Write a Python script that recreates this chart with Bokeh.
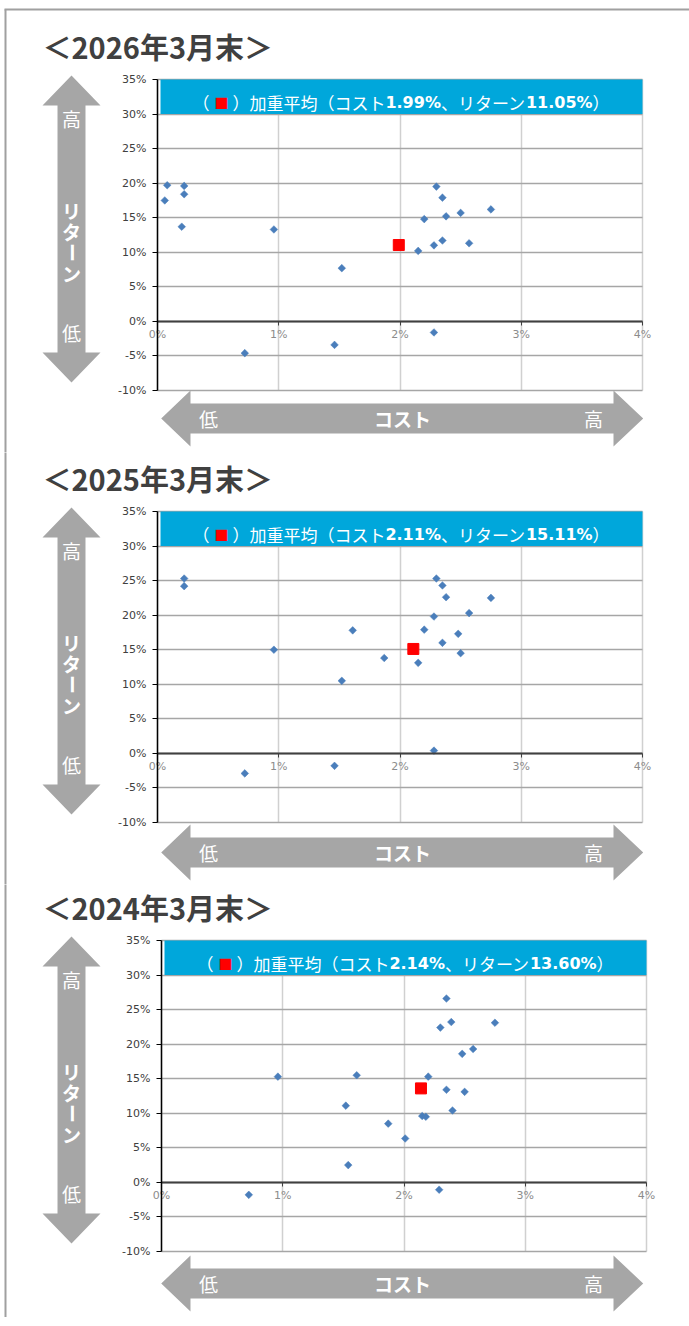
import numpy as np
from bokeh.plotting import figure
from bokeh.layouts import column
from bokeh.models import Range1d, FixedTicker, PrintfTickFormatter, Grid
from bokeh.core.properties import value
from bokeh.embed import file_html
from bokeh.resources import INLINE

# ---------------- data ----------------
titles = ["＜2026年3月末＞", "＜2025年3月末＞", "＜2024年3月末＞"]

cost_2026 = [0.06, 0.08, 0.22, 0.22, 0.20, 0.96, 1.52, 0.72, 1.46, 2.28,
             2.30, 2.35, 2.20, 2.38, 2.50, 2.75, 2.35, 2.28, 2.15, 2.57]
return_2026 = [17.5, 19.7, 19.6, 18.4, 13.7, 13.3, 7.7, -4.6, -3.4, -1.6,
               19.5, 17.9, 14.8, 15.2, 15.7, 16.2, 11.7, 11.0, 10.2, 11.3]

cost_2025 = [0.22, 0.22, 0.96, 1.61, 1.52, 1.87, 0.72, 1.46, 2.28, 2.30,
             2.35, 2.38, 2.75, 2.57, 2.28, 2.20, 2.48, 2.35, 2.50, 2.15]
return_2025 = [25.3, 24.2, 15.0, 17.8, 10.5, 13.8, -2.9, -1.8, 0.4, 25.3,
               24.3, 22.6, 22.5, 20.3, 19.8, 17.9, 17.3, 16.0, 14.5, 13.1]

cost_2024 = [0.96, 1.61, 1.52, 1.54, 1.87, 2.01, 0.72, 2.29, 2.35, 2.39,
             2.30, 2.75, 2.57, 2.48, 2.20, 2.35, 2.50, 2.40, 2.15, 2.18]
return_2024 = [15.3, 15.5, 11.1, 2.5, 8.5, 6.35, -1.8, -1.06, 26.6, 23.2,
               22.4, 23.1, 19.3, 18.6, 15.3, 13.4, 13.1, 10.4, 9.6, 9.5]

avg_cost = [1.99, 2.11, 2.14]
avg_return = [11.05, 15.11, 13.60]

x_ticks = [0, 1, 2, 3, 4]
y_ticks = [-10, -5, 0, 5, 10, 15, 20, 25, 30, 35]

# ---------------- style / layout ----------------
JP = "Noto Sans CJK JP"
NUM = "DejaVu Sans"
ARROW = "#a6a6a6"
BORDER = "#a0a0a0"
BANNER = "#00a7db"
PAGE_W = 689
PLOT_W, PLOT_H = 485, 311          # pixel size of the 0..4 % x -10..35 % area
HAS_CROSS = "cross_bounds" in Grid.properties()

panel_h = [452, 432, 433]          # figure heights
panel_top = [79, 59, 56]           # pixel row of 35 % inside each figure
panel_left = [157, 157, 161]       # pixel column of 0 % inside each figure
panel_harrow = [339, 341, 343]     # horizontal arrow centre below 35 %


def make_panel(i, costs, returns, ac, ar):
    H, T, L = panel_h[i], panel_top[i], panel_left[i]
    kx = (x_ticks[-1] - x_ticks[0]) / PLOT_W
    ky = (y_ticks[-1] - y_ticks[0]) / PLOT_H

    def X(px):
        return x_ticks[0] + (px - L) * kx

    def Y(py):
        return y_ticks[-1] - (py - T) * ky

    p = figure(width=PAGE_W, height=H, min_border=0,
               x_range=Range1d(X(0), X(PAGE_W)), y_range=Range1d(Y(H), Y(0)),
               toolbar_location=None, output_backend="svg",
               outline_line_color=None, background_fill_color="white",
               border_fill_color="white")

    # ---- grids limited to the plotting area
    p.ygrid.ticker = FixedTicker(ticks=y_ticks)
    p.xgrid.ticker = FixedTicker(ticks=x_ticks)
    if HAS_CROSS:
        p.ygrid.cross_bounds = (x_ticks[0], x_ticks[-1])
        p.xgrid.cross_bounds = (y_ticks[0], y_ticks[-1])
        p.ygrid.grid_line_color = "#a6a6a6"
        p.ygrid.grid_line_width = 1.5
        p.xgrid.grid_line_color = "#d0d0d0"
        p.xgrid.grid_line_width = 1.5
    else:
        p.xgrid.visible = False
        p.ygrid.visible = False
        p.segment(x0=x_ticks, y0=[y_ticks[0]] * len(x_ticks), x1=x_ticks,
                  y1=[y_ticks[-1]] * len(x_ticks), line_color="#d0d0d0",
                  line_width=1.5, level="underlay")
        p.segment(x0=[x_ticks[0]] * len(y_ticks), y0=y_ticks, x1=[x_ticks[-1]] * len(y_ticks),
                  y1=y_ticks, line_color="#a6a6a6", line_width=1.5, level="underlay")

    # ---- y axis at 0 %
    ya = p.yaxis[0]
    ya.fixed_location = 0
    ya.bounds = (y_ticks[0], y_ticks[-1])
    ya.ticker = FixedTicker(ticks=y_ticks)
    ya.formatter = PrintfTickFormatter(format="%d%%")
    ya.axis_line_color = "black"
    ya.axis_line_width = 1.5
    ya.major_tick_line_color = "black"
    ya.major_tick_out = 5
    ya.major_tick_in = 0
    ya.minor_tick_line_color = None
    ya.major_label_text_font = "DejaVu Sans"
    ya.major_label_text_font_size = "11px"
    ya.major_label_text_color = "#404040"
    ya.major_label_standoff = 6

    # ---- x axis crossing at 0 %
    xa = p.xaxis[0]
    xa.fixed_location = 0
    xa.bounds = (x_ticks[0], x_ticks[-1])
    xa.ticker = FixedTicker(ticks=x_ticks)
    xa.formatter = PrintfTickFormatter(format="%d%%")
    xa.axis_line_color = "#404040"
    xa.axis_line_width = 2
    xa.major_tick_line_color = "#404040"
    xa.major_tick_out = 4
    xa.major_tick_in = 0
    xa.minor_tick_line_color = None
    xa.major_label_text_font = "DejaVu Sans"
    xa.major_label_text_font_size = "11px"
    xa.major_label_text_color = "#8c8c8c"
    xa.major_label_standoff = 3

    # ---- outer frame of the page
    p.patch([X(4), X(6), X(6), X(4)], [Y(9 if i == 0 else -1)] * 2 + [Y(H + 1)] * 2,
            fill_color=BORDER, line_color=None)
    if i == 0:
        p.patch([X(4), X(PAGE_W), X(PAGE_W), X(4)], [Y(8), Y(8), Y(10), Y(10)],
                fill_color=BORDER, line_color=None)

    # ---- panel title
    p.text(x=[X(42)], y=[Y(T - 34)], text=[titles[i]], text_font=value(JP),
           text_font_size="29px", text_font_style="bold", text_color="#404040",
           text_align="left", text_baseline="middle")

    # ---- vertical double arrow (return)
    cx, t0, t1, b1, b0, hw, sw = 71, T - 4, T + 26, T + 273, T + 303, 29, 14
    xs = [cx, cx + hw, cx + sw, cx + sw, cx + hw, cx, cx - hw, cx - sw, cx - sw, cx - hw]
    ys = [t0, t1, t1, b1, b1, b0, b1, b1, t1, t1]
    p.patch([X(v) for v in xs], [Y(v) for v in ys], fill_color=ARROW, line_color=None)
    common = dict(text_font=value(JP), text_font_size="19px", text_color="white",
                  text_align="center", text_baseline="middle")
    p.text(x=[X(cx)], y=[Y(T + 39)], text=["高"], **common)
    p.text(x=[X(cx)], y=[Y(T + 253)], text=["低"], **common)
    p.text(x=[X(cx)] * 3, y=[Y(T + 131), Y(T + 152), Y(T + 194)], text=["リ", "タ", "ン"],
           text_font_style="bold", **common)
    p.text(x=[X(cx)], y=[Y(T + 173)], text=["ー"], angle=np.pi / 2,
           text_font_style="bold", **common)

    # ---- horizontal double arrow (cost)
    cy = T + panel_harrow[i]
    l0, l1, r1, r0, hh, sh = 160.7, 190, 613, 642.7, 28, 15
    xs = [l0, l1, l1, r1, r1, r0, r1, r1, l1, l1]
    ys = [cy, cy - hh, cy - sh, cy - sh, cy - hh, cy, cy + hh, cy + sh, cy + sh, cy + hh]
    p.patch([X(v) for v in xs], [Y(v) for v in ys], fill_color=ARROW, line_color=None)
    p.text(x=[X(208)], y=[Y(cy)], text=["低"], **common)
    p.text(x=[X(593)], y=[Y(cy)], text=["高"], **common)
    p.text(x=[X(402)], y=[Y(cy)], text=["コスト"], text_font_style="bold", **common)

    # ---- banner with the weighted average
    p.quad(left=[X(L + 3)], right=[x_ticks[-1]], bottom=[30], top=[35],
           fill_color=BANNER, line_color=None)
    cost_s = f"{ac:.2f}%"
    ret_s = f"{ar:.2f}%"

    def num_w(s, size):
        return sum({".": 0.38, "%": 1.002}.get(ch, 0.696) * size for ch in s)

    pieces = [
        ("（", JP, "normal", "white", 17, 22),
        ("■", JP, "normal", "#ff0000", 14, 18),
        ("）", JP, "normal", "white", 17, 17),
        ("加重平均", JP, "normal", "white", 17, 68),
        ("（", JP, "normal", "white", 17, 17),
        ("コスト", JP, "normal", "white", 17, 51),
        (cost_s, NUM, "bold", "white", 16, num_w(cost_s, 16)),
        ("、", JP, "normal", "white", 17, 17),
        ("リターン", JP, "normal", "white", 17, 68),
        (ret_s, NUM, "bold", "white", 16, num_w(ret_s, 16)),
        ("）", JP, "normal", "white", 17, 17),
    ]
    total = sum(pc[5] for pc in pieces)
    xpx = L + 243.5 - total / 2
    for txt, font, style, col, size, w in pieces:
        p.text(x=[X(xpx)], y=[31.7], text=[txt], text_font=value(font),
               text_font_style=style, text_color=col, text_font_size=f"{size}px",
               text_align="left", text_baseline="middle")
        xpx += w

    # ---- data points
    p.scatter(costs, returns, marker="square", angle=np.pi / 4, size=5.4,
              fill_color="#4a7ebb", line_color="#4a7ebb", line_width=0.5)
    p.scatter([ac], [ar], marker="square", size=11, fill_color="#ff0000", line_color="#ff0000")
    return p


series = [(cost_2026, return_2026), (cost_2025, return_2025), (cost_2024, return_2024)]
figs = [make_panel(i, series[i][0], series[i][1], avg_cost[i], avg_return[i]) for i in range(3)]

layout = column(*figs)
open("out.html", "w").write(file_html(layout, INLINE))
